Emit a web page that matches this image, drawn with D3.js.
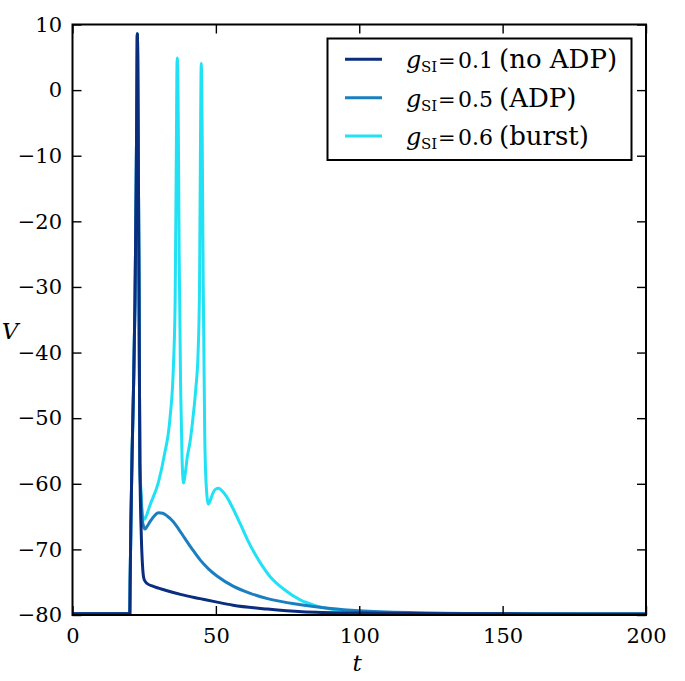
<!DOCTYPE html>
<html>
<head>
<meta charset="utf-8">
<script src="https://cdn.jsdelivr.net/npm/d3@7/dist/d3.min.js"></script>
<style>
  html, body { margin: 0; padding: 0; background: #fff; }
  svg { display: block; }
</style>
</head>
<body>
<svg id="chart" width="685" height="681"></svg>
<script>
// ---- data ----
const xTicks = [0, 50, 100, 150, 200];
const yTicks = [10, 0, -10, -20, -30, -40, -50, -60, -70, -80];

const seriesValues = ["0.", "0.", "0."];
const seriesDigits = ["1", "5", "6"];
const seriesTags = ["(no ADP)", "(ADP)", "(burst)"];
const seriesColors = ["#0b2d7e", "#1a7fc0", "#20e2f4"];

// shared stimulus + first spike
const tSpike = [0, 20.0, 20.1, 20.4, 20.8, 21.3, 21.8, 22.2, 22.45, 22.6, 22.75, 22.95, 23.2, 23.5];
const vSpike = [-79.8, -79.8, -75, -65, -55, -45, -32, -15, 0, 8.6, 5, -10, -30, -57];

// gSI = 0.1 (no ADP), after first spike
const tNoADP = [24.0, 24.5, 25.0, 26.0, 28.0, 30.0, 33.0, 38.0, 44.5, 50.0, 56.0, 68.0, 80.0, 100.0, 130.0, 200.0];
const vNoADP = [-68, -73, -74.6, -75.2, -75.6, -75.9, -76.3, -76.9, -77.5, -78.0, -78.5, -79.1, -79.5, -79.7, -79.8, -79.85];

// gSI = 0.5 (ADP), after first spike
const tADP = [24.0, 24.5, 25.3, 26.0, 27.0, 28.5, 30.0, 31.5, 33.0, 35.0, 37.0, 39.0, 41.5, 44.5, 47.5, 50.5, 56.0, 62.0, 68.0, 79.0, 90.0, 100.0, 120.0, 150.0, 200.0];
const vADP = [-63, -66, -66.9, -66.5, -65.8, -64.9, -64.4, -64.5, -64.9, -65.7, -66.9, -68.2, -69.8, -71.6, -73.0, -74.1, -75.6, -76.7, -77.5, -78.4, -79.0, -79.35, -79.65, -79.8, -79.85];

// gSI = 0.6 (burst), after first spike
const tBurst = [24.0, 24.5, 25.1, 26.0, 27.0, 30.0, 32.0, 34.0, 35.2, 35.8, 36.2, 36.5, 36.8, 37.2, 37.7, 38.2, 38.7, 39.3, 40.0, 41.0, 42.0, 43.0, 43.8, 44.3, 44.6, 44.9, 45.2, 45.6, 46.1, 46.6, 47.4, 48.0, 49.0, 50.0, 50.9, 52.0, 53.8, 56.0, 58.4, 61.0, 63.5, 66.0, 69.0, 73.5, 79.4, 85.0, 90.0, 100.0, 120.0, 150.0, 200.0];
const vBurst = [-62, -65, -65.4, -64.6, -63.3, -59.7, -55.7, -50, -42, -32, -10, 4.9, 0, -25, -45, -56, -59.9, -58.5, -56, -53.6, -50, -45.5, -40, -30, -10, 4.1, -5, -30, -52, -60, -63.1, -62.6, -61.4, -60.8, -60.7, -61.0, -62.0, -63.8, -66.0, -68.5, -70.6, -72.4, -74.2, -76.0, -77.7, -78.6, -79.1, -79.5, -79.75, -79.8, -79.85];

// ---- layout ----
const svg = d3.select("#chart");
const m = { left: 72.5, right: 646, top: 24.5, bottom: 615 };
const x = d3.scaleLinear().domain([0, 200]).range([m.left, m.right]);
const y = d3.scaleLinear().domain([-80, 10]).range([m.bottom, m.top]);

function build(tArr, vArr) {
  const pts = tSpike.map((t, i) => [t, vSpike[i]]);
  tArr.forEach((t, i) => pts.push([t, vArr[i]]));
  return pts;
}
const series = [
  build(tNoADP, vNoADP),
  build(tADP, vADP),
  build(tBurst, vBurst)
];

svg.append("defs").append("clipPath").attr("id", "clip")
  .append("rect").attr("x", m.left).attr("y", m.top)
  .attr("width", m.right - m.left).attr("height", m.bottom - m.top);

const line = d3.line().x(d => x(d[0])).y(d => y(d[1])).curve(d3.curveMonotoneX);

const g = svg.append("g").attr("clip-path", "url(#clip)");
// draw burst first, dark last (dark on top)
[2, 1, 0].forEach(i => {
  g.append("path").datum(series[i])
    .attr("d", line)
    .attr("fill", "none")
    .attr("stroke", seriesColors[i])
    .attr("stroke-width", 3)
    .attr("stroke-linejoin", "round");
});

// ---- axes (ticks inward on all sides) ----
const serif = "DejaVu Serif";
const tickLen = 9;
const axB = d3.axisBottom(x).tickValues(xTicks).tickSizeInner(-tickLen).tickSizeOuter(0).tickPadding(13.5).tickFormat(d3.format("d"));
const axT = d3.axisTop(x).tickValues(xTicks).tickSizeInner(-tickLen).tickSizeOuter(0).tickFormat("");
const axL = d3.axisLeft(y).tickValues(yTicks).tickSizeInner(-tickLen).tickSizeOuter(0).tickPadding(10.5)
  .tickFormat(d => d < 0 ? "\u2212" + Math.abs(d) : String(d));
const axR = d3.axisRight(y).tickValues(yTicks).tickSizeInner(-tickLen).tickSizeOuter(0).tickFormat("");

function styleAxis(sel) {
  sel.attr("font-family", serif).attr("font-size", 21);
  sel.select(".domain").remove();
  sel.selectAll(".tick line").attr("stroke", "#000").attr("stroke-width", 1.4);
  sel.selectAll(".tick text").attr("fill", "#000");
}
svg.append("g").attr("transform", `translate(0,${m.bottom})`).call(axB).call(styleAxis);
svg.append("g").attr("transform", `translate(0,${m.top})`).call(axT).call(styleAxis);
svg.append("g").attr("transform", `translate(${m.left},0)`).call(axL).call(styleAxis);
svg.append("g").attr("transform", `translate(${m.right},0)`).call(axR).call(styleAxis);

// frame
svg.append("rect").attr("x", m.left).attr("y", m.top)
  .attr("width", m.right - m.left).attr("height", m.bottom - m.top)
  .attr("fill", "none").attr("stroke", "#000").attr("stroke-width", 2);

// axis labels
svg.append("text").attr("x", 357).attr("y", 671).attr("text-anchor", "middle")
  .attr("font-family", serif).attr("font-style", "italic").attr("font-size", 23).text("t");
svg.append("text").attr("x", 10).attr("y", 339).attr("text-anchor", "middle")
  .attr("font-family", serif).attr("font-style", "italic").attr("font-size", 23).text("V");

// ---- legend ----
const lg = svg.append("g").attr("font-family", serif).attr("fill", "#000");
lg.append("rect").attr("x", 327.5).attr("y", 38.5).attr("width", 304).attr("height", 121.5)
  .attr("fill", "#fff").attr("stroke", "#000").attr("stroke-width", 2);
const rowY = [59.3, 97.7, 136];
seriesTags.forEach((tag, i) => {
  const by = rowY[i] + 9;
  lg.append("line").attr("x1", 345).attr("x2", 382).attr("y1", rowY[i]).attr("y2", rowY[i])
    .attr("stroke", seriesColors[i]).attr("stroke-width", 3);
  const t = lg.append("text").attr("y", by);
  t.append("tspan").attr("x", 406).attr("font-size", 24).attr("font-style", "italic").text("g");
  t.append("tspan").attr("x", 421).attr("dy", 4).attr("font-size", 15).text("SI");
  t.append("tspan").attr("x", 438).attr("dy", -4).attr("font-size", 21).text("=");
  t.append("tspan").attr("x", 458).attr("font-size", 22).text(seriesValues[i]);
  t.append("tspan").attr("x", 479).attr("font-size", 22).text(seriesDigits[i]);
  t.append("tspan").attr("x", 499).attr("font-size", 26).text(tag);
});
</script>
</body>
</html>
